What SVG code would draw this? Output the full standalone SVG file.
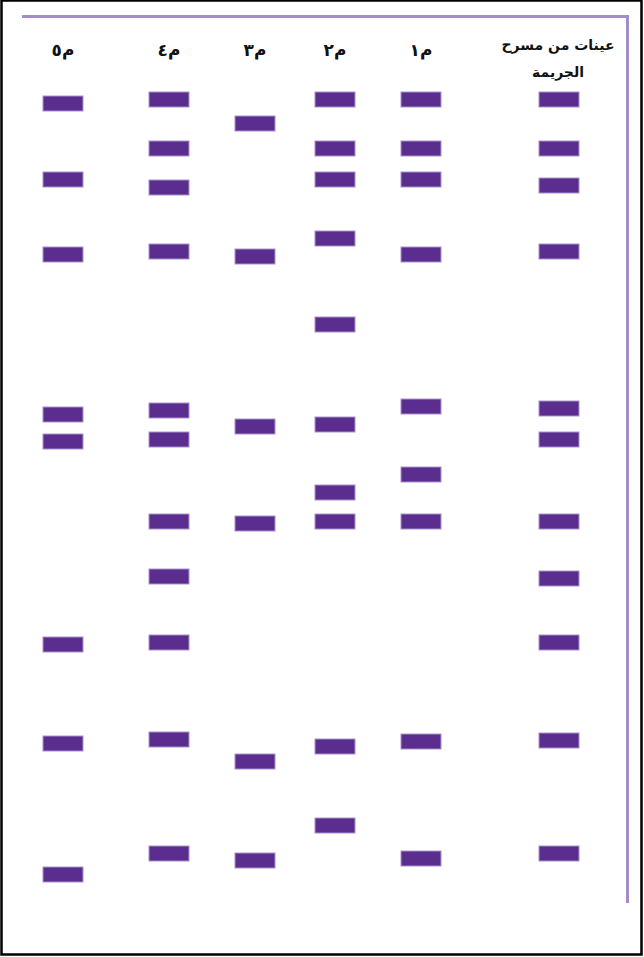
<svg xmlns="http://www.w3.org/2000/svg" width="644" height="957" viewBox="0 0 644 957">
<style>
.band{fill:#5a2d8f;stroke:#a893cc;stroke-width:1}
.lbl{font-family:"DejaVu Sans","Noto Sans",sans-serif;font-size:17px;font-weight:bold;fill:#111;text-anchor:middle;direction:ltr;unicode-bidi:bidi-override}
.hdr{font-family:"DejaVu Sans","Noto Sans",sans-serif;font-size:14px;font-weight:bold;fill:#111;text-anchor:middle;direction:rtl}
.frame{fill:none;stroke:#a48cc9;stroke-width:3}
</style>
<rect x="1.5" y="0.5" width="640" height="954" fill="#fff" stroke="#000" stroke-width="2.5"/>
<g id="frame">
<path class="frame" d="M22 16.5 H627.5 V903"/>
</g>
<g id="headers">
<text class="hdr" x="558" y="50">عينات من مسرح</text>
<text class="hdr" x="558" y="77">الجريمة</text>
<text class="lbl" x="421" y="56">١م</text>
<text class="lbl" x="335" y="56">٢م</text>
<text class="lbl" x="255" y="56">٣م</text>
<text class="lbl" x="169" y="56">٤م</text>
<text class="lbl" x="63" y="56">٥م</text>
</g>
<g id="lane-sample">
<rect class="band" x="539" y="92" width="40" height="15"/>
<rect class="band" x="539" y="141" width="40" height="15"/>
<rect class="band" x="539" y="178" width="40" height="15"/>
<rect class="band" x="539" y="244" width="40" height="15"/>
<rect class="band" x="539" y="401" width="40" height="15"/>
<rect class="band" x="539" y="432" width="40" height="15"/>
<rect class="band" x="539" y="514" width="40" height="15"/>
<rect class="band" x="539" y="571" width="40" height="15"/>
<rect class="band" x="539" y="635" width="40" height="15"/>
<rect class="band" x="539" y="733" width="40" height="15"/>
<rect class="band" x="539" y="846" width="40" height="15"/>
</g>
<g id="lane-m1">
<rect class="band" x="401" y="92" width="40" height="15"/>
<rect class="band" x="401" y="141" width="40" height="15"/>
<rect class="band" x="401" y="172" width="40" height="15"/>
<rect class="band" x="401" y="247" width="40" height="15"/>
<rect class="band" x="401" y="399" width="40" height="15"/>
<rect class="band" x="401" y="467" width="40" height="15"/>
<rect class="band" x="401" y="514" width="40" height="15"/>
<rect class="band" x="401" y="734" width="40" height="15"/>
<rect class="band" x="401" y="851" width="40" height="15"/>
</g>
<g id="lane-m2">
<rect class="band" x="315" y="92" width="40" height="15"/>
<rect class="band" x="315" y="141" width="40" height="15"/>
<rect class="band" x="315" y="172" width="40" height="15"/>
<rect class="band" x="315" y="231" width="40" height="15"/>
<rect class="band" x="315" y="317" width="40" height="15"/>
<rect class="band" x="315" y="417" width="40" height="15"/>
<rect class="band" x="315" y="485" width="40" height="15"/>
<rect class="band" x="315" y="514" width="40" height="15"/>
<rect class="band" x="315" y="739" width="40" height="15"/>
<rect class="band" x="315" y="818" width="40" height="15"/>
</g>
<g id="lane-m3">
<rect class="band" x="235" y="116" width="40" height="15"/>
<rect class="band" x="235" y="249" width="40" height="15"/>
<rect class="band" x="235" y="419" width="40" height="15"/>
<rect class="band" x="235" y="516" width="40" height="15"/>
<rect class="band" x="235" y="754" width="40" height="15"/>
<rect class="band" x="235" y="853" width="40" height="15"/>
</g>
<g id="lane-m4">
<rect class="band" x="149" y="92" width="40" height="15"/>
<rect class="band" x="149" y="141" width="40" height="15"/>
<rect class="band" x="149" y="180" width="40" height="15"/>
<rect class="band" x="149" y="244" width="40" height="15"/>
<rect class="band" x="149" y="403" width="40" height="15"/>
<rect class="band" x="149" y="432" width="40" height="15"/>
<rect class="band" x="149" y="514" width="40" height="15"/>
<rect class="band" x="149" y="569" width="40" height="15"/>
<rect class="band" x="149" y="635" width="40" height="15"/>
<rect class="band" x="149" y="732" width="40" height="15"/>
<rect class="band" x="149" y="846" width="40" height="15"/>
</g>
<g id="lane-m5">
<rect class="band" x="43" y="96" width="40" height="15"/>
<rect class="band" x="43" y="172" width="40" height="15"/>
<rect class="band" x="43" y="247" width="40" height="15"/>
<rect class="band" x="43" y="407" width="40" height="15"/>
<rect class="band" x="43" y="434" width="40" height="15"/>
<rect class="band" x="43" y="637" width="40" height="15"/>
<rect class="band" x="43" y="736" width="40" height="15"/>
<rect class="band" x="43" y="867" width="40" height="15"/>
</g>
</svg>
